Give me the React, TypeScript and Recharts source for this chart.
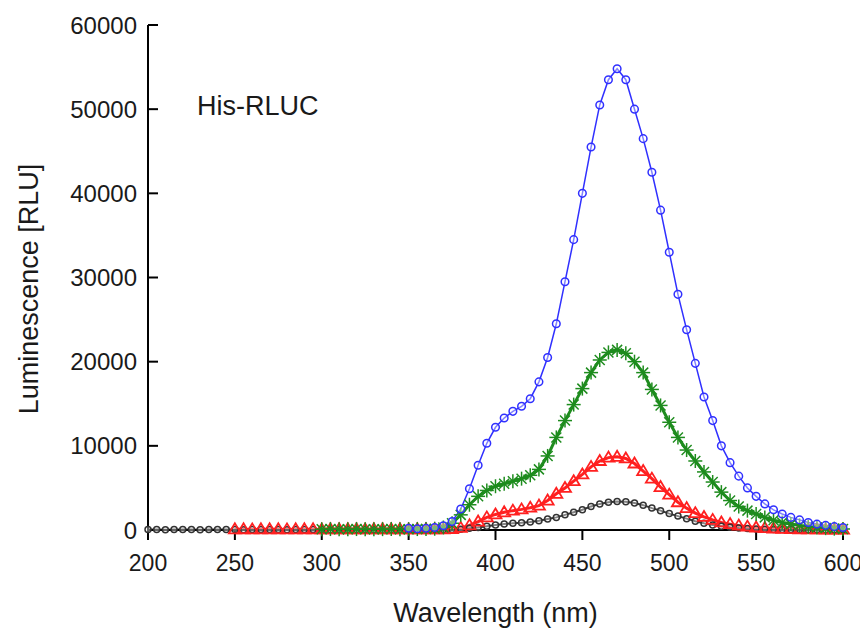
import React from 'react';
import { LineChart, Line, XAxis, YAxis } from 'recharts';

// wavelength axis, 5 nm steps
const wavelengths = [
  200, 205, 210, 215, 220, 225, 230, 235, 240, 245,
  250, 255, 260, 265, 270, 275, 280, 285, 290, 295,
  300, 305, 310, 315, 320, 325, 330, 335, 340, 345,
  350, 355, 360, 365, 370, 375, 380, 385, 390, 395,
  400, 405, 410, 415, 420, 425, 430, 435, 440, 445,
  450, 455, 460, 465, 470, 475, 480, 485, 490, 495,
  500, 505, 510, 515, 520, 525, 530, 535, 540, 545,
  550, 555, 560, 565, 570, 575, 580, 585, 590, 595,
  600,
];

const xTicks = [200, 250, 300, 350, 400, 450, 500, 550, 600];
const yTicks = [0, 10000, 20000, 30000, 40000, 50000, 60000];

// each scan starts at a different wavelength
const blackStart = 200;
const black = [
  60, 50, 40, 60, 50, 50, 40, 60, 50, 50,
  60, 40, 50, 50, 60, 50, 40, 50, 60, 50,
  50, 40, 60, 50, 50, 60, 40, 50, 50, 60,
  50, 40, 50, 60, 50, 60,
  100, 200, 300, 450, 600, 700, 800, 850, 950, 1100,
  1300, 1500, 1800, 2100, 2400, 2800, 3100, 3300, 3400, 3350,
  3200, 2950, 2600, 2300, 1950, 1650, 1350, 1050, 800, 600,
  450, 320, 230, 170, 120, 90, 70, 60, 50, 50,
  40, 40, 40, 40, 40,
];

const redStart = 250;
const red = [
  80, 90, 70, 80, 80, 90, 70, 80, 90, 80,
  70, 80, 80, 90, 80, 70, 80, 90, 80, 80,
  70, 80, 90, 80, 80, 120,
  250, 550, 1000, 1500, 1850, 2100, 2300, 2450, 2650, 2900,
  3500, 4300, 5000, 5800, 6600, 7500, 8200, 8600, 8700, 8500,
  7900, 7000, 6100, 5100, 4200, 3300, 2600, 2000, 1550, 1200,
  900, 700, 520, 400, 300, 230, 180, 140, 110, 90,
  80, 70, 60, 50, 50,
];

const greenStart = 300;
const green = [
  100, 110, 90, 100, 110, 100, 90, 100, 110, 100,
  100, 110, 120, 150,
  300, 800, 1800, 3000, 4000, 4700, 5200, 5500, 5800, 6100,
  6500, 7200, 8800, 11000, 13000, 14900, 16800, 18700, 20200, 21100,
  21400, 21000, 20000, 18700, 16700, 14800, 12800, 11000, 9500, 8200,
  6900, 5700, 4500, 3500, 2800, 2300, 1900, 1500, 1150, 900,
  700, 550, 400, 300, 220, 160, 120,
];

const blueStart = 350;
const blue = [
  200, 150, 200, 300, 500, 1000, 2500, 4900, 7700, 10300,
  12200, 13300, 14100, 14700, 15600, 17600, 20500, 24500, 29500, 34500,
  40000, 45500, 50500, 53500, 54800, 53500, 50000, 46500, 42500, 38000,
  33000, 28000, 23800, 19800, 15800, 13000, 10000, 8000, 6400, 5000,
  4000, 3100, 2400, 1900, 1500, 1200, 900, 700, 550, 400,
  300,
];

const pick = (start: number, values: number[], i: number) => {
  const k = i - wavelengths.indexOf(start);
  return k >= 0 && k < values.length ? values[k] : null;
};

const data = wavelengths.map((w, i) => ({
  wavelength: w,
  black: pick(blackStart, black, i),
  red: pick(redStart, red, i),
  green: pick(greenStart, green, i),
  blue: pick(blueStart, blue, i),
}));

const FONT = '"Liberation Sans", Arial, Helvetica, sans-serif';
const TEXT = '#1a1a1a';

const circleDot = (color: string, r: number) => (props: any) => {
  const { cx, cy, value, index } = props;
  if (value == null || cy == null) return <g key={index} />;
  return <circle key={index} cx={cx} cy={cy} r={r} fill="#fff" fillOpacity={0.4} stroke={color} strokeWidth={1.5} />;
};

const triangleDot = (color: string) => (props: any) => {
  const { cx, cy, value, index } = props;
  if (value == null || cy == null) return <g key={index} />;
  const pts = `${cx},${cy - 6} ${cx - 6},${cy + 4} ${cx + 6},${cy + 4}`;
  return <polygon key={index} points={pts} fill="none" stroke={color} strokeWidth={1.8} />;
};

const starDot = (color: string) => (props: any) => {
  const { cx, cy, value, index } = props;
  if (value == null || cy == null) return <g key={index} />;
  const s = 7;
  return (
    <g key={index} stroke={color} strokeWidth={1.5}>
      <line x1={cx - s} y1={cy} x2={cx + s} y2={cy} />
      <line x1={cx} y1={cy - s} x2={cx} y2={cy + s} />
      <line x1={cx - 5} y1={cy - 5} x2={cx + 5} y2={cy + 5} />
      <line x1={cx - 5} y1={cy + 5} x2={cx + 5} y2={cy - 5} />
    </g>
  );
};

const App = () => {
  return (
    <div style={{ position: 'relative', width: 860, height: 626, fontFamily: FONT }}>
      <LineChart
        width={860}
        height={626}
        data={data}
        margin={{ top: 17, right: 25, left: 40, bottom: 8 }}
      >
        <XAxis
          dataKey="wavelength"
          type="number"
          domain={[200, 600]}
          ticks={xTicks}
          height={96}
          tickSize={10}
          tickMargin={15}
          axisLine={{ stroke: '#000', strokeWidth: 2 }}
          tickLine={{ stroke: '#000', strokeWidth: 2 }}
          tick={{ fill: TEXT, fontSize: 23, fontFamily: FONT }}
          label={{ value: 'Wavelength (nm)', position: 'insideBottom', offset: 4, fontSize: 27, fill: TEXT, fontFamily: FONT }}
        />
        <YAxis
          type="number"
          domain={[0, 60000]}
          ticks={yTicks}
          width={100}
          tickSize={-10}
          tickMargin={21}
          axisLine={{ stroke: '#000', strokeWidth: 2 }}
          tickLine={{ stroke: '#000', strokeWidth: 2 }}
          tick={{ fill: TEXT, fontSize: 24, fontFamily: FONT }}
          label={() => (
            <text
              x={30}
              y={281}
              transform="rotate(-90, 30, 281)"
              textAnchor="middle"
              fontSize={27}
              fill={TEXT}
              fontFamily={FONT}
            >
              Luminescence [RLU]
            </text>
          )}
        />
        <Line dataKey="black" stroke="#333" strokeWidth={2} dot={circleDot('#333', 3)} isAnimationActive={false} />
        <Line dataKey="red" stroke="#ff2020" strokeWidth={3} dot={triangleDot('#ff2020')} isAnimationActive={false} />
        <Line dataKey="green" stroke="#1e8c1e" strokeWidth={3} dot={starDot('#1e8c1e')} isAnimationActive={false} />
        <Line dataKey="blue" stroke="#3030ff" strokeWidth={1.5} dot={circleDot('#3030ff', 3.8)} isAnimationActive={false} />
      </LineChart>
      <div
        style={{
          position: 'absolute',
          left: 189,
          top: 85,
          fontSize: 27,
          lineHeight: 1,
          color: TEXT,
          whiteSpace: 'nowrap',
        }}
      >
        His-RLUC
      </div>
    </div>
  );
};

export default App;
